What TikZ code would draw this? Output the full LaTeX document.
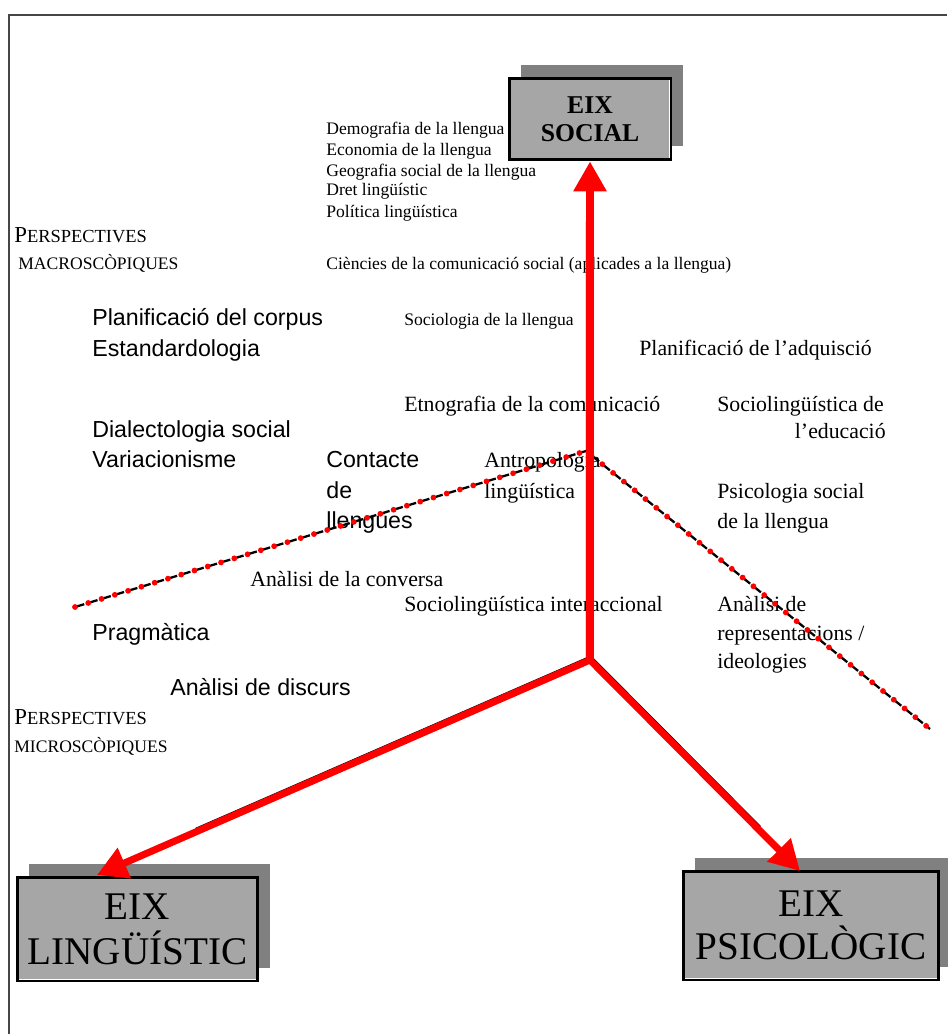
\documentclass[tikz,border=0pt]{standalone}
\usepackage{fontspec}
\setmainfont{Liberation Serif}
\newfontfamily\arialfont{Liberation Sans}
\usetikzlibrary{arrows.meta,shadows,calc}
\definecolor{Axis}{RGB}{255,0,0}
\definecolor{BoxFill}{RGB}{166,166,166}
\definecolor{BoxShadow}{RGB}{128,128,128}
\definecolor{Frame}{RGB}{70,70,70}

\tikzset{
  lbl/.style={anchor=base west, inner sep=0pt},
  smalltxt/.style={lbl, font=\fontsize{10}{12}\selectfont},
  midtxt/.style={lbl, font=\fontsize{12.4}{15}\selectfont},
  bigtxt/.style={lbl, font=\arialfont\fontsize{13.2}{16}\selectfont},
  axisbox/.style={draw=black, line width=1.7pt, fill=BoxFill, align=center, inner sep=0pt,
    general shadow={fill=BoxShadow, shadow xshift=0.24cm, shadow yshift=0.27cm},
    path picture={\draw[white, line width=2.8pt] (path picture bounding box.south west)
      rectangle (path picture bounding box.north east);}},
  axisarrow/.style={Axis, line width=4pt, -{Triangle[length=17pt,width=18pt]}},
  axisedge/.style={black, line width=0.7pt},
  sepblack/.style={black, line width=1.3pt, dash pattern=on 5.5pt off 2.4pt},
  sepdots/.style={Axis, line width=3.3pt, line cap=round, dash pattern=on 0pt off 7.9pt}
}

\begin{document}
\begin{tikzpicture}[x=0.02cm, y=-0.02cm]
    %% Background
    \useasboundingbox (0,0) rectangle (947,1034);
    \draw[Frame, line width=1.2pt] (9,1034) -- (9,15) -- (947,15);

    %% Axes
    \node[axisbox, minimum width=3.24cm, minimum height=1.64cm,
          font=\bfseries\fontsize{14.6}{15.9}\selectfont] (social) at (590,119) {EIX\\SOCIAL};
    \node[axisbox, minimum width=4.82cm, minimum height=2.08cm,
          font=\fontsize{22.3}{25.5}\selectfont] (ling) at (137.5,929) {EIX\\LINGÜÍSTIC};
    \node[axisbox, minimum width=5.12cm, minimum height=2.18cm,
          font=\fontsize{22.3}{24.4}\selectfont] (psico) at (811,925.5) {EIX\\PSICOLÒGIC};

    %% Top list
    \node[smalltxt] (demo) at (326,134) {Demografia de la llengua};
    \node[smalltxt] (econ) at (326,155) {Economia de la llengua};
    \node[smalltxt] (geog) at (326,176) {Geografia social de la llengua};
    \node[smalltxt] (dret) at (326,195) {Dret lingüístic};
    \node[smalltxt] (poli) at (326,217) {Política lingüística};
    \node[smalltxt] (cien) at (326,269) {Ciències de la comunicació social (aplicades a la llengua)};
    \node[smalltxt] (socio) at (404,325) {Sociologia de la llengua};

    %% Perspectives
    \node[lbl] (macroA) at (14,242) {\fontsize{13}{15}\selectfont P\fontsize{10.5}{12}\selectfont ERSPECTIVES};
    \node[lbl, font=\fontsize{10}{12}\selectfont] (macroB) at (18,269) {MACROSCÒPIQUES};
    \node[lbl] (microA) at (14,724) {\fontsize{13}{15}\selectfont P\fontsize{10.5}{12}\selectfont ERSPECTIVES};
    \node[lbl, font=\fontsize{10}{12}\selectfont] (microB) at (14,752) {MICROSCÒPIQUES};

    %% Left column
    \node[bigtxt] (plan1) at (92,325) {Planificació del corpus};
    \node[bigtxt] (plan2) at (92,356) {Estandardologia};
    \node[bigtxt] (dial1) at (92,437) {Dialectologia social};
    \node[bigtxt] (dial2) at (92,467) {Variacionisme};
    \node[bigtxt] (cont1) at (326,467) {Contacte};
    \node[bigtxt] (cont2) at (326,498) {de};
    \node[bigtxt] (cont3) at (326,528) {llengües};
    \node[bigtxt] (prag) at (92,640) {Pragmàtica};
    \node[bigtxt] (disc) at (170,695) {Anàlisi de discurs};

    %% Middle and right
    \node[midtxt] (adq) at (639,355) {Planificació de l’adquisció};
    \node[midtxt] (etno) at (404,411) {Etnografia de la comunicació};
    \node[midtxt] (educ1) at (717,411) {Sociolingüística de};
    \node[midtxt, anchor=base east] (educ2) at (886,438) {l’educació};
    \node[midtxt] (antr1) at (484,467) {Antropologia};
    \node[midtxt] (antr2) at (484,498) {lingüística};
    \node[midtxt] (psoc1) at (717,498) {Psicologia social};
    \node[midtxt] (psoc2) at (717,528) {de la llengua};
    \node[midtxt] (conv) at (250,586) {Anàlisi de la conversa};
    \node[midtxt] (inter) at (404,611) {Sociolingüística interaccional};
    \node[midtxt] (repr1) at (717,611) {Anàlisi de};
    \node[midtxt] (repr2) at (717,640) {representacions /};
    \node[midtxt] (repr3) at (717,668) {ideologies};

    %% Macro / micro border
    \coordinate (apex) at (586,451);
    \coordinate (dotL) at (75,607);
    \coordinate (dotR) at (930,729);
    \draw[sepblack] (dotL) -- (apex) -- (dotR);
    \draw[sepdots] (dotL) -- (apex) -- (dotR);

    %% Arrows
    \coordinate (hub) at (590,660);
    \coordinate (lingtip) at (97,875);
    \coordinate (psicotip) at (800,871);
    \draw[axisedge] ([shift={(-3.4,0)}]hub) -- ([shift={(-3.4,0)}]$(hub)!0.88!(social.south)$);
    \draw[axisedge] ([shift={(0,-3.6)}]hub) -- ([shift={(0,-3.6)}]$(hub)!0.8!(lingtip)$);
    \draw[axisedge] ([shift={(2.4,-2.4)}]hub) -- ([shift={(2.4,-2.4)}]$(hub)!0.8!(psicotip)$);
    \draw[axisarrow] (hub) -- (social.south);
    \draw[axisarrow] (hub) -- (lingtip);
    \draw[axisarrow] (hub) -- (psicotip);
\end{tikzpicture}
\end{document}
